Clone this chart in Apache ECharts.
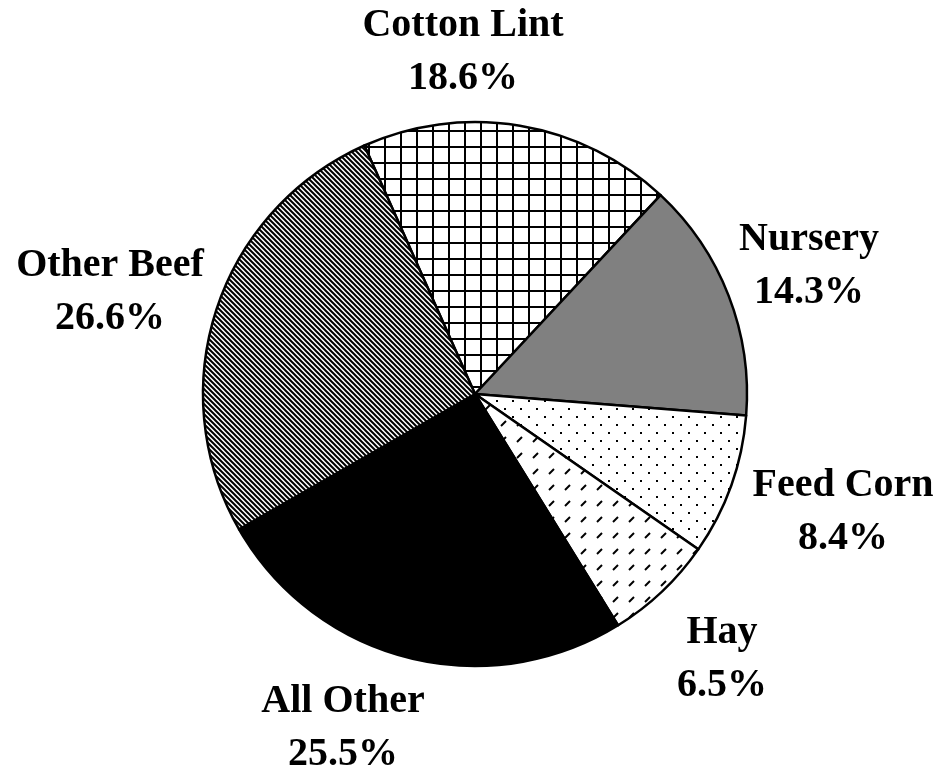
<!DOCTYPE html>
<html>
<head>
<meta charset="utf-8">
<title>Crop share pie</title>
<script src="https://cdn.jsdelivr.net/npm/echarts@6/dist/echarts.min.js"></script>
<style>
  html, body { margin: 0; padding: 0; background: #fff; }
  #chart { width: 941px; height: 776px; }
</style>
</head>
<body>
<div id="chart"></div>
<script>
// slice data, clockwise from the top
var categories = ['Cotton Lint', 'Nursery', 'Feed Corn', 'Hay', 'All Other', 'Other Beef'];
var shares = [18.6, 14.3, 8.4, 6.5, 25.5, 26.6];

// where each label block is centred (page pixels)
var labelSpots = {
  'Cotton Lint': [463, 52],
  'Nursery': [809, 266],
  'Feed Corn': [843, 512],
  'Hay': [722, 659],
  'All Other': [343, 728],
  'Other Beef': [110, 292]
};

/* little canvas tiles used as fill patterns */
function tile(w, h, draw) {
  var c = document.createElement('canvas');
  c.width = w;
  c.height = h;
  var ctx = c.getContext('2d');
  ctx.fillStyle = '#fff';
  ctx.fillRect(0, 0, w, h);
  ctx.strokeStyle = '#000';
  ctx.fillStyle = '#000';
  draw(ctx);
  return { image: c, repeat: 'repeat' };
}

var gridFill = tile(16, 16, function (ctx) {
  ctx.fillRect(0, 0, 2, 16);
  ctx.fillRect(0, 2, 16, 2);
});

var dotFill = tile(16, 16, function (ctx) {
  ctx.fillRect(0, 0, 2, 2);
  ctx.fillRect(8, 8, 2, 2);
});

var dashFill = tile(16, 16, function (ctx) {
  ctx.lineWidth = 2;
  ctx.beginPath();
  ctx.moveTo(5, 10);
  ctx.lineTo(10, 5);
  ctx.stroke();
});

var hatchFill = tile(5, 5, function (ctx) {
  ctx.lineWidth = 2;
  ctx.beginPath();
  ctx.moveTo(-1, -1);
  ctx.lineTo(6, 6);
  ctx.moveTo(-1, 4);
  ctx.lineTo(1, 6);
  ctx.moveTo(4, -1);
  ctx.lineTo(6, 1);
  ctx.stroke();
});

var fills = [gridFill, '#808080', dotFill, dashFill, '#000000', hatchFill];

var pieData = categories.map(function (name, i) {
  return { name: name, value: shares[i], itemStyle: { color: fills[i] } };
});

var chart = echarts.init(document.getElementById('chart'));
chart.setOption({
  animation: false,
  backgroundColor: '#ffffff',
  series: [{
    type: 'pie',
    center: [475, 394],
    radius: 272,
    startAngle: 114,
    clockwise: true,
    avoidLabelOverlap: false,
    emphasis: { disabled: true },
    itemStyle: { borderColor: '#000', borderWidth: 2.5 },
    label: {
      show: true,
      position: 'outside',
      fontFamily: 'Liberation Serif',
      fontWeight: 'bold',
      fontSize: 40,
      lineHeight: 53,
      color: '#000',
      align: 'center',
      formatter: function (p) {
        return p.name + '\n' + p.value.toFixed(1) + '%';
      }
    },
    labelLine: { show: false },
    labelLayout: function (p) {
      var spot = labelSpots[categories[p.dataIndex]];
      return { x: spot[0], y: spot[1], align: 'center', verticalAlign: 'middle' };
    },
    data: pieData
  }]
});
</script>
</body>
</html>
